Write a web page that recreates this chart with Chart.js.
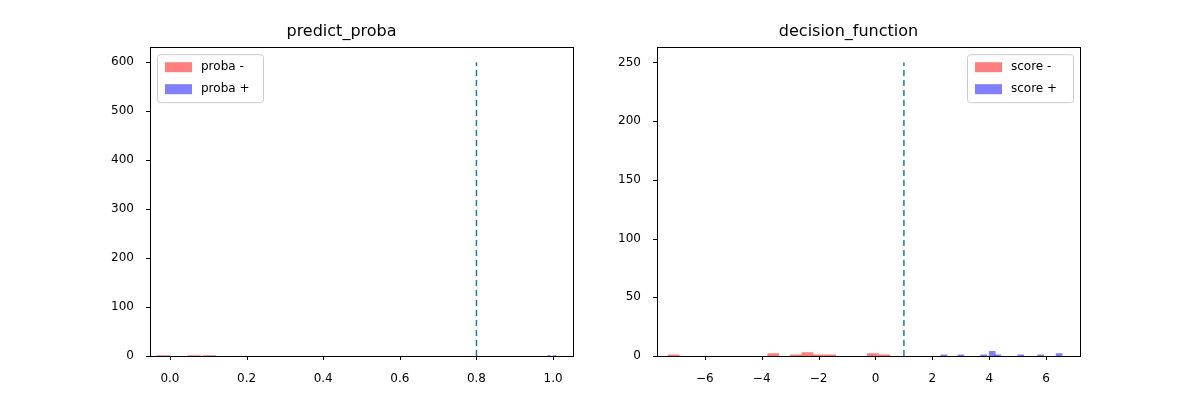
<!DOCTYPE html>
<html><head><meta charset="utf-8">
<script src="https://cdn.jsdelivr.net/npm/chart.js@4/dist/chart.umd.min.js"></script>
<style>
body{margin:0;background:#fff;width:1200px;height:400px;position:relative;overflow:hidden}
.box{position:absolute;top:0;width:600px;height:400px}
</style></head><body>
<div class="box" style="left:0"><canvas id="left"></canvas></div>
<div class="box" style="left:507px"><canvas id="right"></canvas></div>
<script>
// left panel: probability histograms
const probaNegX = [0.0, 0.08, 0.12];
const probaNegY = [1, 1, 1];
const probaPosX = [0.985, 1.0];
const probaPosY = [1, 1];
const probaThreshold = 0.8;
// right panel: decision scores
const scoreNegX = [-6.9, -3.4, -2.6, -2.2, -1.8, -1.4, 0.1, 0.5];
const scoreNegY = [1, 2, 1, 3, 1, 1, 2, 1];
const scorePosX = [2.3, 2.9, 3.7, 4.0, 4.2, 5.0, 5.7, 6.35];
const scorePosY = [1, 1, 1, 4, 1, 1, 1, 2];
const scoreThreshold = 1.0;

const font = {family: 'DejaVu Sans', size: 12};
Chart.defaults.font = font;
Chart.defaults.color = '#000';

function pts(xs, ys) { return xs.map((x, i) => ({x: x, y: ys[i]})); }

// matplotlib-like frame, tick marks and legend box
const frame = {
  id: 'frame',
  afterDraw(chart, args, o) {
    const ctx = chart.ctx, a = chart.chartArea;
    ctx.save();
    ctx.strokeStyle = '#000';
    ctx.lineWidth = 1;
    ctx.strokeRect(Math.round(a.left) + 0.5, Math.round(a.top) + 0.5,
                   Math.round(a.right - a.left), Math.round(a.bottom - a.top));
    ctx.beginPath();
    chart.scales.x.ticks.forEach(t => {
      const px = Math.round(chart.scales.x.getPixelForValue(t.value)) + 0.5;
      ctx.moveTo(px, a.bottom); ctx.lineTo(px, a.bottom + 4);
    });
    chart.scales.y.ticks.forEach(t => {
      const py = Math.round(chart.scales.y.getPixelForValue(t.value)) + 0.5;
      ctx.moveTo(a.left, py); ctx.lineTo(a.left - 4, py);
    });
    ctx.stroke();

    const w = 106, h = 48;
    const x = o.side === 'left' ? a.left + 7 : a.right - w - 7, y = a.top + 7;
    ctx.fillStyle = 'rgba(255,255,255,0.8)';
    ctx.strokeStyle = '#ccc';
    ctx.beginPath(); ctx.roundRect(x + 0.5, y + 0.5, w, h, 3); ctx.fill(); ctx.stroke();
    ctx.font = '12px DejaVu Sans';
    ctx.textBaseline = 'middle';
    o.items.forEach((it, i) => {
      const cy = y + 13 + i * 22;
      ctx.fillStyle = it.c;
      ctx.fillRect(x + 8, cy - 5, 27, 10);
      ctx.fillStyle = '#000';
      ctx.fillText(it.t, x + 44, cy);
    });
    ctx.restore();
  }
};

function makeChart(id, title, negX, negY, posX, posY, thr, lineTop, negW, posW, xr, yr, ystep, ticks, leg) {
  const c = document.getElementById(id);
  c.width = 600; c.height = 400;
  new Chart(c, {
    data: {
      datasets: [
        {type: 'bar', data: pts(negX, negY), backgroundColor: 'rgba(255,0,0,0.5)', barThickness: negW},
        {type: 'bar', data: pts(posX, posY), backgroundColor: 'rgba(0,0,255,0.5)', barThickness: posW},
        {type: 'line', data: [{x: thr, y: 0}, {x: thr, y: lineTop}], borderColor: '#1f77b4',
         borderWidth: 1.5, borderDash: [6, 4], pointRadius: 0}
      ]
    },
    options: {
      responsive: false, animation: false,
      layout: {padding: {left: 110, right: 27, bottom: 0}},
      plugins: {
        legend: {display: false}, tooltip: {enabled: false},
        title: {display: true, text: title, font: {family: 'DejaVu Sans', size: 16, weight: 'normal'},
                color: '#000', padding: {top: 22, bottom: 6}},
        frame: {side: leg.side, items: leg.items}
      },
      scales: {
        x: {type: 'linear', min: xr[0], max: xr[1], offset: false,
            afterBuildTicks: s => { s.ticks = ticks.map(v => ({value: v})); },
            afterFit: s => { s.height = 44; },
            grid: {display: false}, border: {display: false},
            ticks: {font: font, padding: 8, maxRotation: 0,
                    callback: v => ticks[0] < 0 ? String(v).replace('-', '\u2212') : v.toFixed(1)}},
        y: {min: 0, max: yr, afterFit: s => { s.width = 40; },
            afterBuildTicks: s => {
              const out = [];
              for (let v = 0; v <= yr; v += ystep) out.push({value: v});
              s.ticks = out;
            },
            grid: {display: false}, border: {display: false},
            ticks: {font: font, padding: 8}}
      }
    },
    plugins: [frame]
  });
}

makeChart('left', 'predict_proba', probaNegX, probaNegY, probaPosX, probaPosY, probaThreshold, 600,
  13, 3, [-0.052, 1.052], 631, 100, [0, 0.2, 0.4, 0.6, 0.8, 1.0],
  {side: 'left', items: [{t: 'proba -', c: 'rgba(255,0,0,0.5)'}, {t: 'proba +', c: 'rgba(0,0,255,0.5)'}]});
makeChart('right', 'decision_function', scoreNegX, scoreNegY, scorePosX, scorePosY, scoreThreshold, 250,
  11, 6, [-7.68, 7.19], 263, 50, [-6, -4, -2, 0, 2, 4, 6],
  {side: 'right', items: [{t: 'score -', c: 'rgba(255,0,0,0.5)'}, {t: 'score +', c: 'rgba(0,0,255,0.5)'}]});
</script>
</body></html>
